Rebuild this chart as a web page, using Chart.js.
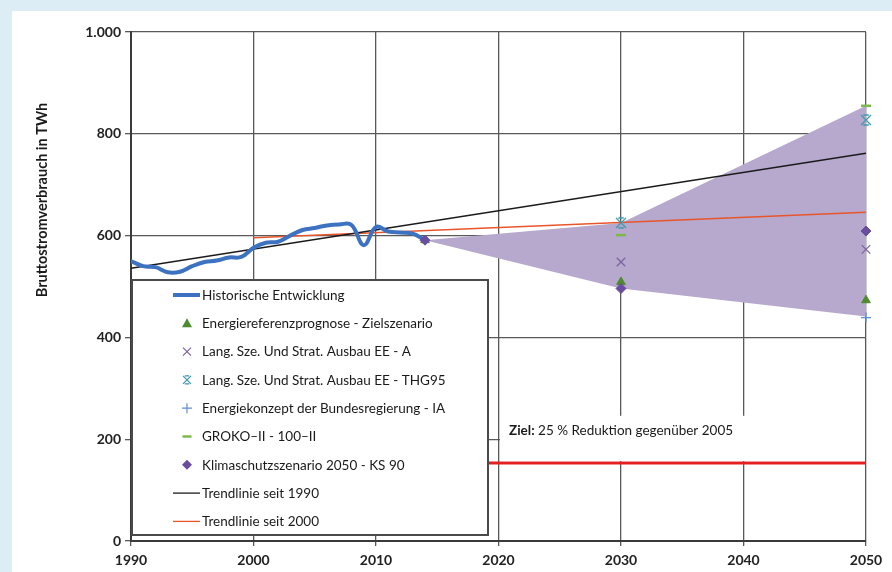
<!DOCTYPE html>
<html>
<head>
<meta charset="utf-8">
<script src="https://cdn.jsdelivr.net/npm/chart.js@4.4.1/dist/chart.umd.min.js"></script>
<style>
  html, body { margin: 0; padding: 0; background: #dcedf6; overflow: hidden; }
  #frame { position: absolute; left: 12px; top: 11px; width: 880px; height: 561px; background: #ffffff; }
  #wrap { position: absolute; left: 0; top: 0; width: 892px; height: 572px; }
</style>
</head>
<body>
<div id="frame"></div>
<div id="wrap"><canvas id="c" width="892" height="572"></canvas></div>
<script>
// Gross electricity consumption in Germany (TWh), history 1990-2014
const histYears  = [1990,1991,1992,1993,1994,1995,1996,1997,1998,1999,2000,2001,2002,2003,2004,2005,2006,2007,2008,2009,2010,2011,2012,2013,2014];
const histValues = [550, 540, 538, 528, 529, 540, 548, 551, 557, 558, 576, 586, 588, 600, 611, 615, 620, 622, 621, 581, 617, 608, 606, 604, 591];

// Scenario years and values (null = no value in that scenario)
const scenarioYears   = [2014, 2030, 2050];
const zielszenario    = [591, 509, 473];   // Energiereferenzprognose - Zielszenario
const ausbauA         = [null, 548, 573];  // Lang. Sze. Und Strat. Ausbau EE - A
const ausbauTHG95     = [null, 625, 827];  // Lang. Sze. Und Strat. Ausbau EE - THG95
const energiekonzept  = [null, null, 439]; // Energiekonzept der Bundesregierung - IA
const groko           = [null, 601, 855];  // GROKO-II - 100-II
const klimaschutz     = [591, 496, 609];   // Klimaschutzszenario 2050 - KS 90

// Range spanned by the scenarios
const rangeUpper = [591, 625, 855];
const rangeLower = [591, 496, 441];

// Linear trend lines
const trend1990Years  = [1990, 2050];
const trend1990Values = [536, 762];
const trend2000Years  = [2000, 2050];
const trend2000Values = [596, 646];

// Target: 25 % reduction compared with 2005
const targetYears  = [1990, 2050];
const targetValues = [153, 153];

// Axis ticks
const xTicks = [1990, 2000, 2010, 2020, 2030, 2040, 2050];
const yTicks = [0, 200, 400, 600, 800, 1000];

const toPoints = (xs, ys) => xs.map((x, i) => ({ x: x, y: ys[i] })).filter(p => p.y !== null && p.y !== undefined);
const deNumber = v => String(v).replace(/\B(?=(\d{3})+(?!\d))/g, '.');

const FONT = 'Lato, "Open Sans", "Liberation Sans", sans-serif';

const C = {
  hist: '#3c72c0',
  tri: '#4e8b2f',
  xA: '#7b62a3',
  thg: '#3f97ae',
  plus: '#5f8fd6',
  groko: '#7cb84a',
  ks: '#6a4d9e',
  band: '#b6a9cd',
  t1990: '#1a1a1a',
  t2000: '#e9552b',
  target: '#e3201f'
};

// Asterisk-like marker: a cross with short caps top and bottom
function drawAsterisk(ctx, x, y, s, color, lw) {
  ctx.save();
  ctx.strokeStyle = color;
  ctx.lineWidth = lw;
  ctx.beginPath();
  ctx.moveTo(x - s, y - s); ctx.lineTo(x + s, y + s);
  ctx.moveTo(x + s, y - s); ctx.lineTo(x - s, y + s);
  ctx.moveTo(x - s * 0.55, y - s); ctx.lineTo(x + s * 0.55, y - s);
  ctx.moveTo(x - s * 0.55, y + s); ctx.lineTo(x + s * 0.55, y + s);
  ctx.stroke();
  ctx.restore();
}

const asteriskImg = (() => {
  const cv = document.createElement('canvas');
  cv.width = 14; cv.height = 14;
  drawAsterisk(cv.getContext('2d'), 7, 7, 5, C.thg, 1.3);
  return cv;
})();

function pointSet(label, ys, style, color, radius, bw) {
  return {
    label: label,
    data: toPoints(scenarioYears, ys),
    showLine: false,
    clip: false,
    pointStyle: style,
    pointRadius: radius,
    pointHoverRadius: radius,
    pointBorderColor: color,
    pointBackgroundColor: color,
    pointBorderWidth: bw,
    borderColor: color,
    backgroundColor: color
  };
}

const datasets = [
  pointSet('Klimaschutzszenario 2050 - KS 90', klimaschutz, 'rectRot', C.ks, 5, 1),
  pointSet('GROKO\u2013II - 100\u2013II', groko, 'line', C.groko, 5, 2.5),
  pointSet('Energiekonzept der Bundesregierung - IA', energiekonzept, 'cross', C.plus, 5, 1.3),
  pointSet('Lang. Sze. Und Strat. Ausbau EE - THG95', ausbauTHG95, asteriskImg, C.thg, 5.5, 1.3),
  pointSet('Lang. Sze. Und Strat. Ausbau EE - A', ausbauA, 'crossRot', C.xA, 6, 1.3),
  pointSet('Energiereferenzprognose - Zielszenario', zielszenario, 'triangle', C.tri, 5, 1),
  {
    label: 'Historische Entwicklung',
    data: toPoints(histYears, histValues),
    borderColor: C.hist, borderWidth: 4, pointRadius: 0, tension: 0.4, fill: false,
    borderCapStyle: 'round', borderJoinStyle: 'round'
  },
  {
    label: 'Trendlinie seit 1990',
    data: toPoints(trend1990Years, trend1990Values),
    borderColor: C.t1990, borderWidth: 1.5, pointRadius: 0, fill: false
  },
  {
    label: 'Trendlinie seit 2000',
    data: toPoints(trend2000Years, trend2000Values),
    borderColor: C.t2000, borderWidth: 1.5, pointRadius: 0, fill: false
  },
  {
    label: 'Ziel',
    data: toPoints(targetYears, targetValues),
    borderColor: C.target, borderWidth: 3, pointRadius: 0, fill: false
  },
  {
    label: 'Bandbreite oben',
    data: toPoints(scenarioYears, rangeUpper),
    borderWidth: 0, borderColor: 'rgba(0,0,0,0)', pointRadius: 0,
    backgroundColor: C.band, fill: '+1'
  },
  {
    label: 'Bandbreite unten',
    data: toPoints(scenarioYears, rangeLower),
    borderWidth: 0, borderColor: 'rgba(0,0,0,0)', pointRadius: 0, fill: false
  }
];

// Legend entries, drawn into a white box inside the plot
const legendItems = [
  { text: 'Historische Entwicklung', kind: 'line', color: C.hist, width: 4 },
  { text: 'Energiereferenzprognose - Zielszenario', kind: 'triangle', color: C.tri },
  { text: 'Lang. Sze. Und Strat. Ausbau EE - A', kind: 'crossRot', color: C.xA },
  { text: 'Lang. Sze. Und Strat. Ausbau EE - THG95', kind: 'star', color: C.thg },
  { text: 'Energiekonzept der Bundesregierung - IA', kind: 'cross', color: C.plus },
  { text: 'GROKO\u2013II - 100\u2013II', kind: 'dash', color: C.groko },
  { text: 'Klimaschutzszenario 2050 - KS 90', kind: 'diamond', color: C.ks },
  { text: 'Trendlinie seit 1990', kind: 'line', color: C.t1990, width: 1.3 },
  { text: 'Trendlinie seit 2000', kind: 'line', color: C.t2000, width: 1.3 }
];

function legendSymbol(ctx, it, x, y) {
  const r = 5;
  ctx.save();
  ctx.strokeStyle = it.color;
  ctx.fillStyle = it.color;
  ctx.lineWidth = 1.2;
  ctx.beginPath();
  switch (it.kind) {
    case 'triangle':
      ctx.moveTo(x, y - r);
      ctx.lineTo(x + r, y + r * 0.8);
      ctx.lineTo(x - r, y + r * 0.8);
      ctx.closePath();
      ctx.fill();
      break;
    case 'crossRot':
      ctx.moveTo(x - 4, y - 4); ctx.lineTo(x + 4, y + 4);
      ctx.moveTo(x + 4, y - 4); ctx.lineTo(x - 4, y + 4);
      ctx.stroke();
      break;
    case 'star':
      drawAsterisk(ctx, x, y, 4, it.color, 1.2);
      break;
    case 'cross':
      ctx.moveTo(x - 5, y); ctx.lineTo(x + 5, y);
      ctx.moveTo(x, y - 5); ctx.lineTo(x, y + 5);
      ctx.stroke();
      break;
    case 'dash':
      ctx.lineWidth = 2.5;
      ctx.moveTo(x - 4.5, y); ctx.lineTo(x + 4.5, y);
      ctx.stroke();
      break;
    case 'diamond':
      ctx.moveTo(x, y - 5); ctx.lineTo(x + 5, y); ctx.lineTo(x, y + 5); ctx.lineTo(x - 5, y);
      ctx.closePath();
      ctx.fill();
      break;
  }
  ctx.restore();
}

const boxLegend = {
  id: 'boxLegend',
  afterDatasetsDraw(chart) {
    const ctx = chart.ctx;
    const a = chart.chartArea;
    const left = a.left + 1, top = 280, right = a.left + 357, bottom = 535;
    ctx.save();
    ctx.fillStyle = '#ffffff';
    ctx.fillRect(left, top, right - left, bottom - top);
    ctx.strokeStyle = '#4a4a4a';
    ctx.lineWidth = 2;
    ctx.strokeRect(left, top, right - left, bottom - top);
    const rowStart = 295, rowStep = 28.3;
    ctx.font = '13.5px ' + FONT;
    ctx.textBaseline = 'middle';
    ctx.textAlign = 'left';
    legendItems.forEach((it, i) => {
      const y = rowStart + i * rowStep;
      if (it.kind === 'line') {
        ctx.beginPath();
        ctx.strokeStyle = it.color;
        ctx.lineWidth = it.width;
        ctx.moveTo(173, y);
        ctx.lineTo(200, y);
        ctx.stroke();
      } else {
        legendSymbol(ctx, it, 187, y);
      }
      ctx.fillStyle = '#1a1a1a';
      ctx.fillText(it.text, 202, y + 0.5);
    });
    ctx.restore();
  }
};

// Target annotation with white backing over the grid
const targetNote = {
  id: 'targetNote',
  afterDatasetsDraw(chart) {
    const ctx = chart.ctx;
    const xs = chart.scales.x, ys = chart.scales.y;
    const x0 = xs.getPixelForValue(2020) + 1.5;
    const x1 = xs.getPixelForValue(2050) - 1;
    const yTop = ys.getPixelForValue(246);
    const yBot = ys.getPixelForValue(targetValues[0]) - 2;
    ctx.save();
    ctx.fillStyle = '#ffffff';
    ctx.fillRect(x0, yTop, x1 - x0, yBot - yTop);
    ctx.textBaseline = 'middle';
    ctx.textAlign = 'left';
    ctx.fillStyle = '#1a1a1a';
    const tx = x0 + 9, ty = ys.getPixelForValue(217);
    ctx.font = 'bold 13.5px ' + FONT;
    const bold = 'Ziel:';
    ctx.fillText(bold, tx, ty);
    const w = ctx.measureText(bold).width;
    ctx.font = '13.5px ' + FONT;
    ctx.fillText(' 25 % Reduktion gegen\u00fcber 2005', tx + w, ty);
    ctx.restore();
  }
};

// Rotated value-axis title
const yTitle = {
  id: 'yTitle',
  afterDraw(chart) {
    const ctx = chart.ctx;
    ctx.save();
    ctx.translate(42, 200);
    ctx.rotate(-Math.PI / 2);
    ctx.font = 'bold 14.5px ' + FONT;
    ctx.fillStyle = '#1a1a1a';
    ctx.textAlign = 'center';
    ctx.textBaseline = 'middle';
    ctx.fillText('Bruttostromverbrauch in TWh', 0, 0);
    ctx.restore();
  }
};

new Chart(document.getElementById('c'), {
  type: 'line',
  data: { datasets: datasets },
  options: {
    responsive: false,
    animation: false,
    devicePixelRatio: 1,
    layout: { padding: { top: 32, right: 26, left: 0, bottom: 0 } },
    plugins: {
      legend: { display: false },
      tooltip: { enabled: false },
      filler: { propagate: false }
    },
    scales: {
      x: {
        type: 'linear',
        min: xTicks[0],
        max: xTicks[xTicks.length - 1],
        afterBuildTicks: s => { s.ticks = xTicks.map(v => ({ value: v })); },
        afterFit: s => { s.height = 31; },
        ticks: {
          callback: v => String(v),
          font: { family: FONT, size: 14, weight: 'bold' },
          color: '#222222',
          padding: 6,
          maxRotation: 0
        },
        grid: { color: '#595959', lineWidth: 1.3, tickLength: 5, drawTicks: true },
        border: { color: '#3a3a3a', width: 2 }
      },
      y: {
        min: yTicks[0],
        max: yTicks[yTicks.length - 1],
        afterBuildTicks: s => { s.ticks = yTicks.map(v => ({ value: v })); },
        afterFit: s => { s.width = 131; },
        ticks: {
          callback: v => deNumber(v),
          font: { family: FONT, size: 14, weight: 'bold' },
          color: '#222222',
          padding: 4
        },
        grid: { color: '#595959', lineWidth: 1.3, tickLength: 6, drawTicks: true },
        border: { color: '#3a3a3a', width: 2 }
      }
    }
  },
  plugins: [boxLegend, targetNote, yTitle]
});
</script>
</body>
</html>
